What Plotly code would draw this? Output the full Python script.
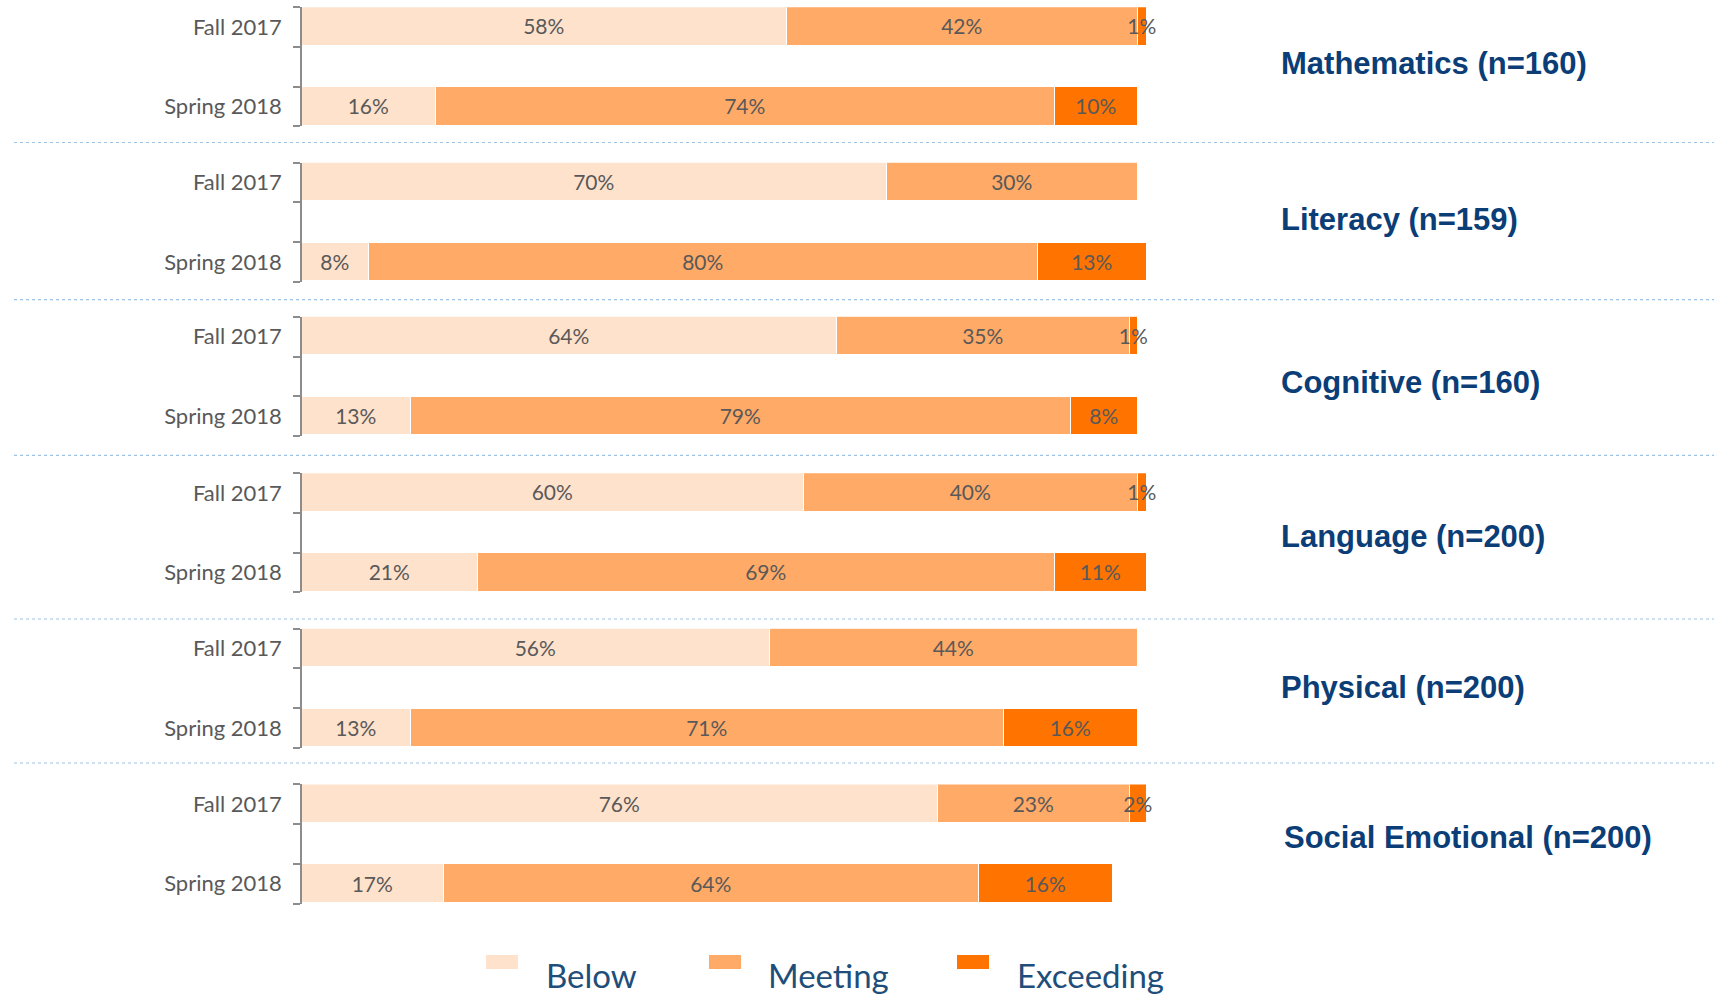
import plotly.graph_objects as go

# ---------------- data ----------------
subjects = ["Mathematics", "Literacy", "Cognitive", "Language", "Physical", "Social Emotional"]
n_counts = [160, 159, 160, 200, 200, 200]
terms = ["Fall 2017", "Spring 2018"]
levels = ["Below", "Meeting", "Exceeding"]

below_fall = [58, 70, 64, 60, 56, 76]
meeting_fall = [42, 30, 35, 40, 44, 23]
exceeding_fall = [1, 0, 1, 1, 0, 2]

below_spring = [16, 8, 13, 21, 13, 17]
meeting_spring = [74, 80, 79, 69, 71, 64]
exceeding_spring = [10, 13, 8, 11, 16, 16]

# ---------------- style ----------------
W, H = 1714, 994
colors = {"Below": "#FFE2CC", "Meeting": "#FFAA66", "Exceeding": "#FF7300"}
label_gray = "#595959"
axis_gray = "#8C8C8C"
navy = "#0B3D77"
legend_navy = "#1F4E7A"
FONT = "Lato"

L = 302                 # left margin (px) -> x = 0
PX_PER_PCT = 8.362
XMAX = (W - L) / PX_PER_PCT
U = 79.5                # px per category unit
fall_centers = [27.0, 182.5, 336.7, 493.0, 648.5, 804.3]
label_centers = [63.3, 219.7, 382.6, 536.7, 687.6, 837.3]
label_left = [1279, 1279, 1279, 1279, 1279, 1282]
separators = [142.5, 299.6, 455.4, 619.0, 763.0]

series = {
    "Below": (below_fall, below_spring),
    "Meeting": (meeting_fall, meeting_spring),
    "Exceeding": (exceeding_fall, exceeding_spring),
}

def py(px):
    return 1 - px / H

def pxx(px):
    return (px - L) / (W - L)

fig = go.Figure()
layout = {}
for i, subj in enumerate(subjects):
    sfx = "" if i == 0 else str(i + 1)
    xa, ya = "x" + sfx, "y" + sfx
    for lev in levels:
        fall_v, spring_v = series[lev]
        vals = [fall_v[i], spring_v[i]]
        fig.add_trace(go.Bar(
            x=vals, y=[1, 0], orientation="h", name=lev,
            xaxis=xa, yaxis=ya, width=0.49,
            marker=dict(color=colors[lev], line=dict(color="white", width=1.5)),
            text=[f"{v}%" if v else "" for v in vals],
            textposition="inside", insidetextanchor="middle", textangle=0,
            textfont=dict(family=FONT, size=21, color=label_gray),
            cliponaxis=False, showlegend=False, hoverinfo="skip",
        ))
    F = fall_centers[i]
    layout["xaxis" + sfx] = dict(domain=[0, 1], range=[0, XMAX], visible=False,
                                 anchor=ya, fixedrange=True)
    layout["yaxis" + sfx] = dict(
        domain=[py(F + 1.25 * U), py(F - 0.25 * U)],
        range=[-0.2505, 1.2505], anchor=xa,
        tickmode="array", tickvals=[1, 0], ticktext=terms,
        ticks="", showgrid=False, zeroline=False,
        showline=True, linecolor=axis_gray, linewidth=1.5,
        tickfont=dict(family=FONT, size=22, color=label_gray),
        ticklabelstandoff=14,
        minor=dict(tickmode="array", tickvals=[-0.25, 0.25, 0.75, 1.25],
                   ticks="outside", ticklen=7, tickcolor=axis_gray,
                   tickwidth=1.5, showgrid=False),
    )

annotations = []
for i, subj in enumerate(subjects):
    annotations.append(dict(
        text=f"<b>{subj} (n={n_counts[i]})</b>", xref="paper", yref="paper",
        x=pxx(label_left[i]), y=py(label_centers[i]), xanchor="left", yanchor="middle",
        showarrow=False, font=dict(family="Liberation Sans", size=31, color=navy),
    ))

shapes = []
for s in separators:
    shapes.append(dict(type="line", xref="paper", yref="paper",
                       x0=pxx(14), x1=1.0, y0=py(s), y1=py(s),
                       line=dict(color="#9DC3E6", width=1.2, dash="dot")))

# custom legend: swatch above-left of label
legend_items = [("Below", 486, 544), ("Meeting", 709, 766), ("Exceeding", 957, 1015)]
for lev, sx, tx in legend_items:
    shapes.append(dict(type="rect", xref="paper", yref="paper",
                       x0=pxx(sx), x1=pxx(sx + 32), y0=py(969), y1=py(955),
                       line=dict(width=0), fillcolor=colors[lev]))
    annotations.append(dict(
        text=lev, xref="paper", yref="paper", x=pxx(tx), y=py(975),
        xanchor="left", yanchor="middle", showarrow=False,
        font=dict(family=FONT, size=33, color=legend_navy),
    ))

fig.update_layout(
    **layout,
    barmode="stack", bargap=0,
    width=W, height=H,
    margin=dict(l=L, r=0, t=0, b=0),
    paper_bgcolor="white", plot_bgcolor="white",
    uniformtext=dict(minsize=21, mode="show"),
    annotations=annotations, shapes=shapes,
    showlegend=False,
)

fig.write_html("out.html", config={"displayModeBar": False},
               post_script="document.body.style.margin='0';")
